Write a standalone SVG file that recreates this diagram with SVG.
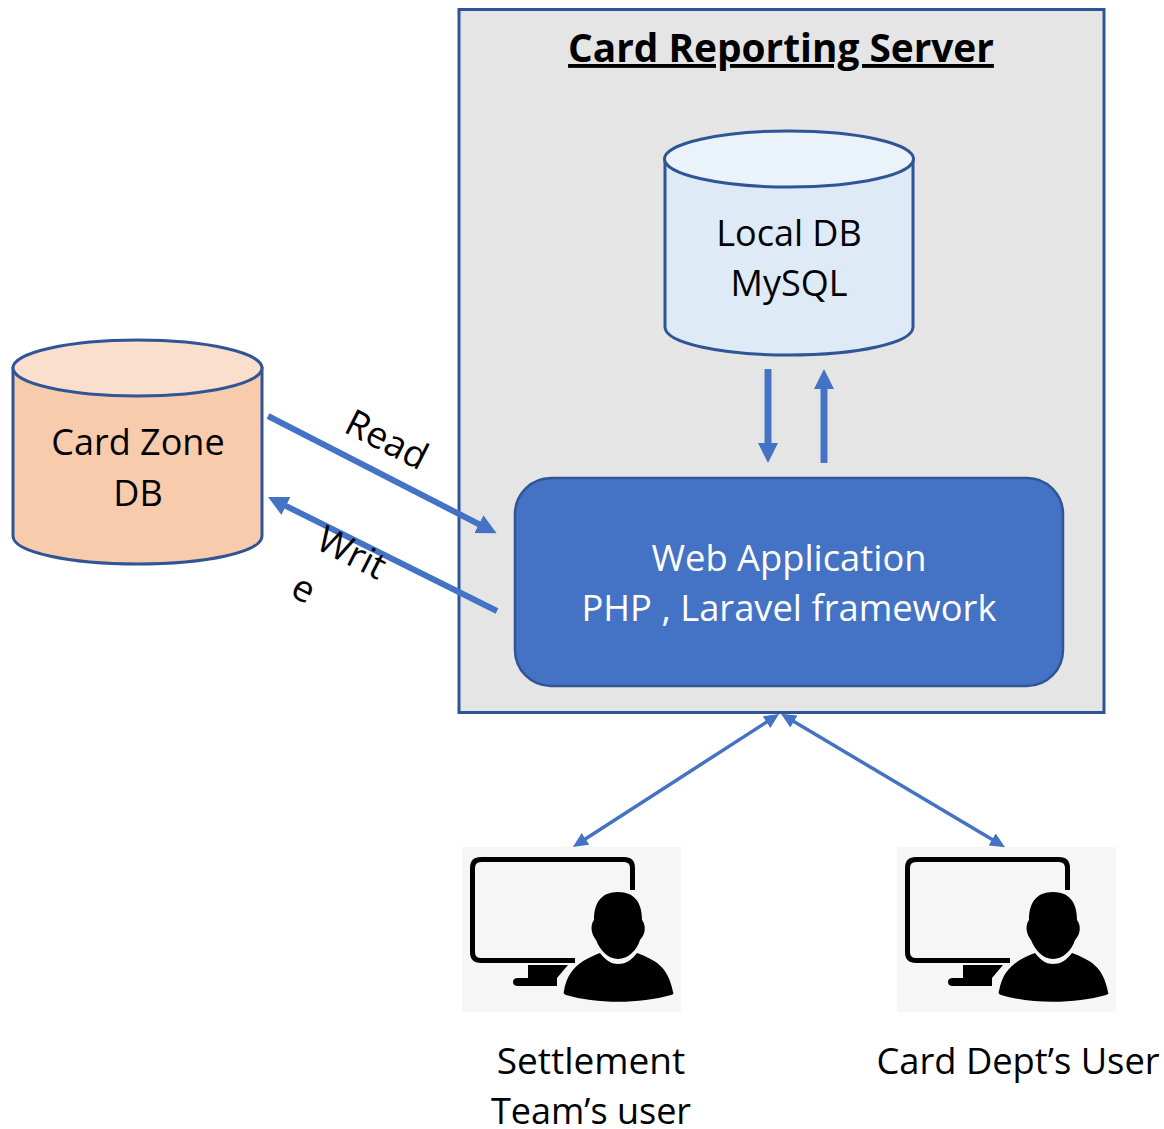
<svg xmlns="http://www.w3.org/2000/svg" width="1164" height="1129" viewBox="0 0 1164 1129">
<style>
text{font-family:"Open Sans","Noto Sans","Liberation Sans",sans-serif;font-size:36px;fill:#000;text-anchor:middle}
.w{fill:#fff;font-size:36.300px}
.l{font-size:37px}
.cyl{stroke:#2f5597;stroke-width:3}
.c{stroke:#4472c4;fill:none}
</style>
<defs>
<marker id="a" markerUnits="userSpaceOnUse" markerWidth="22" markerHeight="20" refX="3" refY="10" orient="auto"><path d="M0 0L20 10L0 20Z" fill="#4472c4"/></marker>
<marker id="b" markerUnits="userSpaceOnUse" markerWidth="16" markerHeight="14" refX="3" refY="7" orient="auto-start-reverse"><path d="M0 0L15 7L0 14Z" fill="#4472c4"/></marker>
<g id="user">
<rect x="462" y="847" width="219" height="165" fill="#f6f6f6"/>
<path d="M632.500 890V868Q632.500 859.500 624 859.500H481Q472.500 859.500 472.500 868V952Q472.500 960.500 481 960.500H575" fill="none" stroke="#000" stroke-width="5"/>
<path d="M528 965H568L557 978V986H518Q513 986 513 982Q513 978 518 978H528Z" fill="#000"/>
<path d="M618 892C635 892 642 903 642 920C646 925 646 934 640 940C637 950 628 959 618 959C608 959 600 950 596 940C591 934 590 925 594 920C594 903 601 892 618 892Z" fill="#000"/>
<path d="M600 953C606 961 612 964 618 964C625 964 631 961 637 953C655 960 668 966 673 992C674 994 673 994 671 995C640 1004 596 1004 566 995C564 994 563 993 564 991C568 968 582 960 600 953Z" fill="#000"/>
</g>
</defs>
<g id="server">
<rect x="459" y="9.500" width="645" height="703" fill="#e5e5e5" stroke="#2f5597" stroke-width="3"/>
<text x="781" y="62" style="font-size:38.800px;font-weight:700" text-decoration="underline">Card Reporting Server</text>
</g>
<g id="local-db">
<path class="cyl" d="M665 159V327C665 343 721 355 789 355C857 355 913 343 913 327V159Z" fill="#deeaf6"/>
<ellipse class="cyl" cx="789" cy="159" rx="124.500" ry="28" fill="#ebf3fa"/>
<text x="789" y="246">Local DB</text>
<text x="789" y="296">MySQL</text>
</g>
<g id="card-zone-db">
<path class="cyl" d="M13 368V536C13 552 69 564 137.500 564C206 564 262 552 262 536V368Z" fill="#f7cbac"/>
<ellipse class="cyl" cx="137.500" cy="368" rx="124.500" ry="28" fill="#fbdfcd"/>
<text x="138" y="455">Card Zone</text>
<text x="138" y="506">DB</text>
</g>
<g id="web-app">
<rect x="515" y="478" width="548" height="208" rx="36" fill="#4472c4" stroke="#2f5597" stroke-width="2.500"/>
<text class="w" x="789" y="571">Web Application</text>
<text class="w" x="789" y="621">PHP , Laravel framework</text>
</g>
<g id="settlement-user">
<use href="#user"/>
<text class="l" x="591" y="1074">Settlement</text>
<text x="591" y="1124">Team’s user</text>
</g>
<g id="card-dept-user">
<use href="#user" x="435"/>
<text class="w" style="fill:#000" x="1018" y="1074">Card Dept’s User</text>
</g>
<g id="connectors">
<path class="c" stroke-width="7" marker-end="url(#a)" d="M768 369V446"/>
<path class="c" stroke-width="7" marker-end="url(#a)" d="M824 463V386"/>
<path class="c" stroke-width="6" marker-end="url(#a)" d="M268 416L481.500 525.500"/>
<path class="c" stroke-width="6" marker-end="url(#a)" d="M497 611L283.200 504.600"/>
<path class="c" stroke-width="3.500" marker-start="url(#b)" marker-end="url(#b)" d="M583 840.500L769 720.500"/>
<path class="c" stroke-width="3.500" marker-start="url(#b)" marker-end="url(#b)" d="M791.300 720L994.700 841"/>
</g>
<g id="labels">
<text class="l" transform="translate(381 451) rotate(27)">Read</text>
<text class="l" transform="translate(346 564) rotate(27)">Writ</text>
<text class="l" transform="translate(298 600) rotate(27)">e</text>
</g>
</svg>
